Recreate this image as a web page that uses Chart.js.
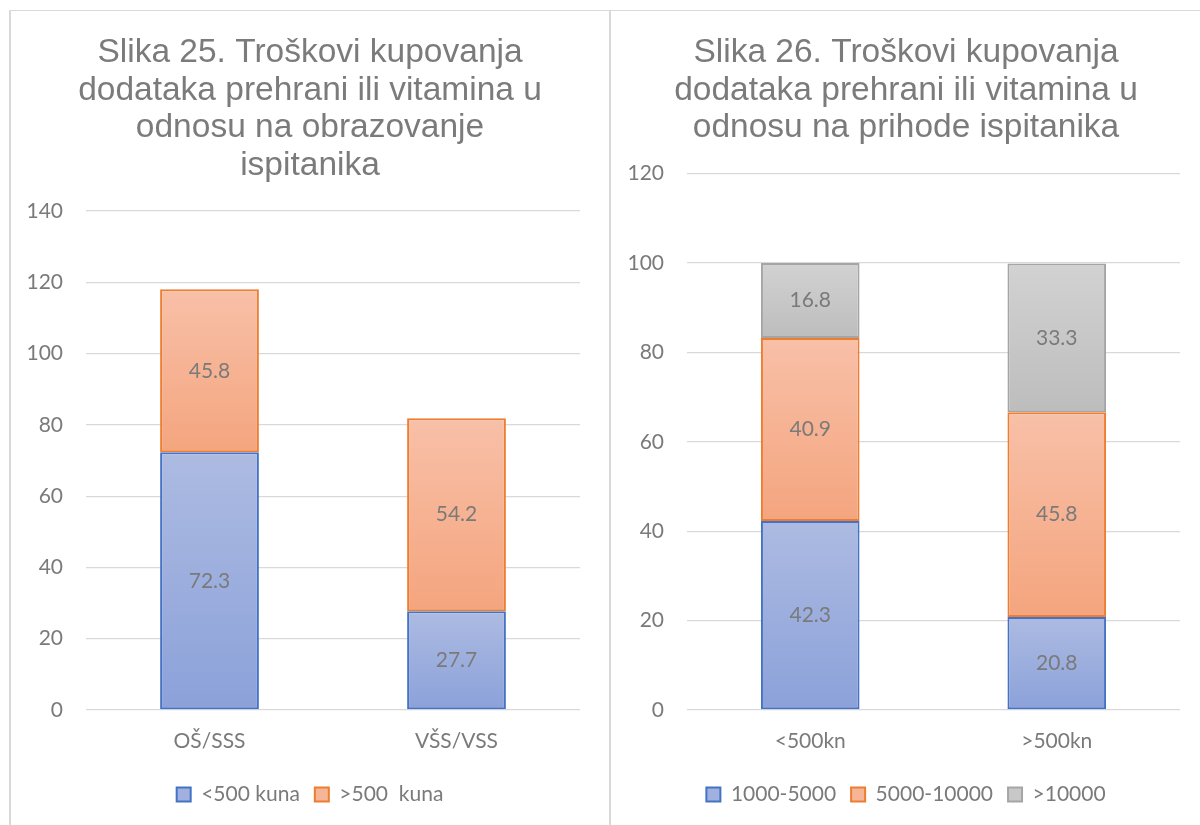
<!DOCTYPE html>
<html>
<head>
<meta charset="utf-8">
<script src="https://cdn.jsdelivr.net/npm/chart.js@4.4.1/dist/chart.umd.min.js"></script>
<style>
  html, body { margin: 0; padding: 0; background: #fff; }
  body { width: 1200px; height: 825px; position: relative; overflow: hidden; }
  .line { position: absolute; background: #d9d9d9; }
  .box { position: absolute; top: 0; height: 825px; }
</style>
</head>
<body>
<div class="line" style="left:9px; top:10px; width:1191px; height:1px;"></div>
<div class="line" style="left:9px; top:10px; width:2px; height:815px;"></div>
<div class="line" style="left:609px; top:10px; width:2px; height:815px;"></div>
<div class="box" style="left:11px; width:598px;"><canvas id="chart25"></canvas></div>
<div class="box" style="left:612px; width:588px;"><canvas id="chart26"></canvas></div>
<script>
// Podaci - Slika 25
const kategorije25 = ['OŠ/SSS', 'VŠS/VSS'];
const ispod500 = [72.3, 27.7];
const iznad500 = [45.8, 54.2];

// Podaci - Slika 26
const kategorije26 = ['<500kn', '>500kn'];
const prihod1000_5000 = [42.3, 20.8];
const prihod5000_10000 = [40.9, 45.8];
const prihodPreko10000 = [16.8, 33.3];

const sivaTekst = '#7a7a7a';
const boje = {
    plava: { top: '#adbbe2', bottom: '#8ba1d9', border: '#4472c4', legend: '#a0b1df' },
    narancasta: { top: '#f8c0a8', bottom: '#f4a57e', border: '#ed7d31', legend: '#f6b597' },
    siva: { top: '#d2d2d2', bottom: '#bdbdbd', border: '#a5a5a5', legend: '#c8c8c8' }
};

// Gradijent za svaki segment stupca
function gradijent(boja) {
    return function (context) {
        const chart = context.chart;
        if (!chart.chartArea || !chart.scales.y || context.dataIndex === undefined) return boja.legend;
        let start = 0;
        for (let i = 0; i < context.datasetIndex; i++) {
            start += chart.data.datasets[i].data[context.dataIndex];
        }
        const end = start + chart.data.datasets[context.datasetIndex].data[context.dataIndex];
        const y = chart.scales.y;
        const yTop = y.getPixelForValue(end);
        const yBot = y.getPixelForValue(start);
        if (!isFinite(yTop) || !isFinite(yBot) || yTop === yBot) return boja.legend;
        const g = chart.ctx.createLinearGradient(0, yTop, 0, yBot);
        g.addColorStop(0, boja.top);
        g.addColorStop(1, boja.bottom);
        return g;
    };
}

function dataset(label, data, boja) {
    return {
        label: label,
        data: data,
        backgroundColor: gradijent(boja),
        borderColor: boja.border,
        borderWidth: 2,
        borderSkipped: false,
        legendColor: boja.legend,
        categoryPercentage: 1,
        barPercentage: 0.4
    };
}

// Oznake vrijednosti u sredini segmenta
const oznakePlugin = {
    id: 'oznake',
    afterDatasetsDraw(chart) {
        const ctx = chart.ctx;
        ctx.save();
        ctx.font = '21px Lato';
        ctx.fillStyle = sivaTekst;
        ctx.textAlign = 'center';
        ctx.textBaseline = 'middle';
        chart.data.datasets.forEach((ds, i) => {
            chart.getDatasetMeta(i).data.forEach((bar, j) => {
                const cy = (bar.y + bar.base) / 2;
                ctx.fillText(ds.data[j].toFixed(1), bar.x, cy);
            });
        });
        ctx.restore();
    }
};

function napraviGraf(id, naslov, kategorije, datasets, maxY, lijevo, yPadding, desno) {
    const ctx = document.getElementById(id).getContext('2d');
    return new Chart(ctx, {
        type: 'bar',
        data: { labels: kategorije, datasets: datasets },
        plugins: [oznakePlugin],
        options: {
            responsive: true,
            maintainAspectRatio: false,
            animation: false,
            layout: { padding: { left: 0, right: 0, top: 0, bottom: 10 } },
            plugins: {
                title: {
                    display: true,
                    text: naslov,
                    color: '#7b7b7b',
                    font: { family: 'Liberation Sans', size: 33.5, weight: 'normal', lineHeight: 1.12 },
                    padding: { top: 34, bottom: 27 }
                },
                legend: {
                    position: 'bottom',
                    labels: {
                        boxWidth: 14,
                        boxHeight: 14,
                        padding: 15,
                        color: sivaTekst,
                        font: { family: 'Lato', size: 21 },
                        generateLabels(chart) {
                            return chart.data.datasets.map((ds, i) => ({
                                text: ds.label,
                                fillStyle: ds.legendColor,
                                strokeStyle: ds.borderColor,
                                lineWidth: 2,
                                fontColor: sivaTekst,
                                hidden: false,
                                datasetIndex: i
                            }));
                        }
                    }
                },
                tooltip: { enabled: false }
            },
            scales: {
                x: {
                    stacked: true,
                    grid: { display: false, drawTicks: false },
                    border: { display: false },
                    ticks: { color: sivaTekst, font: { family: 'Lato', size: 21 }, padding: 19 },
                    afterFit(scale) { scale.height = 59; }
                },
                y: {
                    stacked: true,
                    min: 0,
                    max: maxY,
                    grid: { color: '#d9d9d9', lineWidth: 1.3, drawTicks: false },
                    border: { display: false },
                    ticks: { stepSize: 20, color: sivaTekst, font: { family: 'Lato', size: 21 }, padding: yPadding },
                    afterFit(scale) { scale.width = lijevo; }
                },
                // prazan prostor desno od grafa
                desno: {
                    position: 'right',
                    grid: { display: false, drawTicks: false },
                    border: { display: false },
                    ticks: { display: false },
                    afterFit(scale) { scale.width = desno; }
                }
            }
        }
    });
}

napraviGraf('chart25',
    ['Slika 25. Troškovi kupovanja', 'dodataka prehrani ili vitamina u', 'odnosu na obrazovanje', 'ispitanika'],
    kategorije25,
    [dataset('<500 kuna', ispod500, boje.plava), dataset('>500  kuna', iznad500, boje.narancasta)],
    140, 75, 23, 29);

napraviGraf('chart26',
    ['Slika 26. Troškovi kupovanja', 'dodataka prehrani ili vitamina u', 'odnosu na prihode ispitanika'],
    kategorije26,
    [dataset('1000-5000', prihod1000_5000, boje.plava), dataset('5000-10000', prihod5000_10000, boje.narancasta), dataset('>10000', prihodPreko10000, boje.siva)],
    120, 75, 23, 20);
</script>
</body>
</html>
